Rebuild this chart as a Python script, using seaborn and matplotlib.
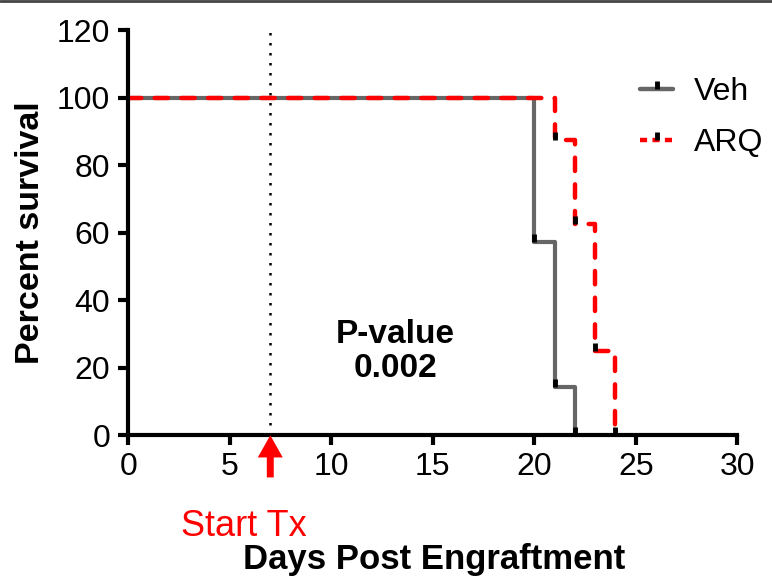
import numpy as np
import pandas as pd
import matplotlib
matplotlib.use("Agg")
import matplotlib.pyplot as plt
import seaborn as sns
from matplotlib.path import Path
from matplotlib.lines import Line2D
from matplotlib.legend_handler import HandlerTuple

# Kaplan-Meier step data
veh_days = [0, 20, 21, 22]
veh_surv = [100, 57.14, 14.29, 0]
arq_days = [0, 21, 22, 23, 24]
arq_surv = [100, 87.5, 62.5, 25, 0]
groups = ["Veh", "ARQ"]
colors = {"Veh": "#666666", "ARQ": "#ff0000"}
tx_day = 7
pvalue_text = "P-value\n0.002"

df = pd.concat([
    pd.DataFrame({"Days": veh_days, "Survival": veh_surv, "Group": "Veh"}),
    pd.DataFrame({"Days": arq_days, "Survival": arq_surv, "Group": "ARQ"}),
], ignore_index=True)

sns.set_style("ticks")
plt.rcParams["font.family"] = ["Liberation Sans", "DejaVu Sans"]
for k in ["text.color", "axes.labelcolor", "xtick.color", "ytick.color", "axes.edgecolor"]:
    plt.rcParams[k] = "black"

fig = plt.figure(figsize=(7.72, 5.78), dpi=100)
ax = fig.add_axes([0.166, 0.247, 0.789, 0.701])

# little upward tick drawn at every step (as in the original)
tick = Path([(0, 0), (0, 1)], [Path.MOVETO, Path.LINETO])

sns.lineplot(data=df[df.Group == "Veh"], x="Days", y="Survival", ax=ax,
             drawstyle="steps-post", color=colors["Veh"], lw=3,
             legend=False, estimator=None)
sns.lineplot(data=df[df.Group == "ARQ"], x="Days", y="Survival", ax=ax,
             drawstyle="steps-post", color=colors["ARQ"], lw=3.2,
             legend=False, estimator=None)
ax.lines[1].set_dashes((3.0, 3.0))
ax.lines[1].set_dash_capstyle("round")

for g in groups:
    sub = df[df.Group == g].iloc[1:]
    ax.plot(sub.Days, sub.Survival, ls="none", marker=tick, ms=12, mew=3.5,
            color="black", clip_on=False, zorder=5)

ax.axvline(tx_day, color="black", ls=(0, (1, 3)), lw=1.8, zorder=1)

ax.set_xlim(0, 30)
ax.set_ylim(0, 120)
ax.set_xticks(range(0, 31, 5))
ax.set_yticks(range(0, 121, 20))
sns.despine(ax=ax)
for s in ["left", "bottom"]:
    ax.spines[s].set_linewidth(3)
ax.tick_params(width=3, length=7, labelsize=23, direction="out")
ax.tick_params(axis="y", pad=6)
ax.tick_params(axis="x", pad=5)
ax.set_xlabel("")
ax.set_ylabel("Percent survival", fontsize=24.5, fontweight="bold", labelpad=8)

ax.text(13.15, 24.9, pvalue_text, ha="center", va="center", fontsize=24,
        fontweight="bold", linespacing=1.12)

# treatment start arrow below the axis
ax.annotate("", xy=(tx_day, 0), xytext=(tx_day, -12.5),
            arrowprops=dict(facecolor="#ff0000", edgecolor="none", width=5,
                            headwidth=18, headlength=16),
            annotation_clip=False)
fig.text(244 / 772, 1 - 527 / 578, "Start Tx", color="#ff0000", fontsize=26,
         ha="center", va="center")
fig.text(434 / 772, 1 - 560 / 578, "Days Post Engraftment", fontsize=25,
         fontweight="bold", ha="center", va="center")

handles = []
for g in groups:
    ln = Line2D([], [], color=colors[g], lw=3.2)
    if g == "ARQ":
        ln.set_dashes((1.6, 1.2))
    mk = Line2D([], [], ls="none", marker=tick, ms=12, mew=3.5, color="black")
    handles.append((ln, mk))
ax.legend(handles, groups, handler_map={tuple: HandlerTuple(ndivide=1)},
          loc="upper left", bbox_to_anchor=(0.84, 0.883), frameon=False,
          fontsize=23, handlelength=1.05, handletextpad=0.65, labelspacing=0.64,
          borderpad=0, borderaxespad=0)

fig.add_artist(Line2D([0, 1], [0.999, 0.999], transform=fig.transFigure,
                      color="#444444", lw=2))

fig.savefig("out.png", dpi=100)
